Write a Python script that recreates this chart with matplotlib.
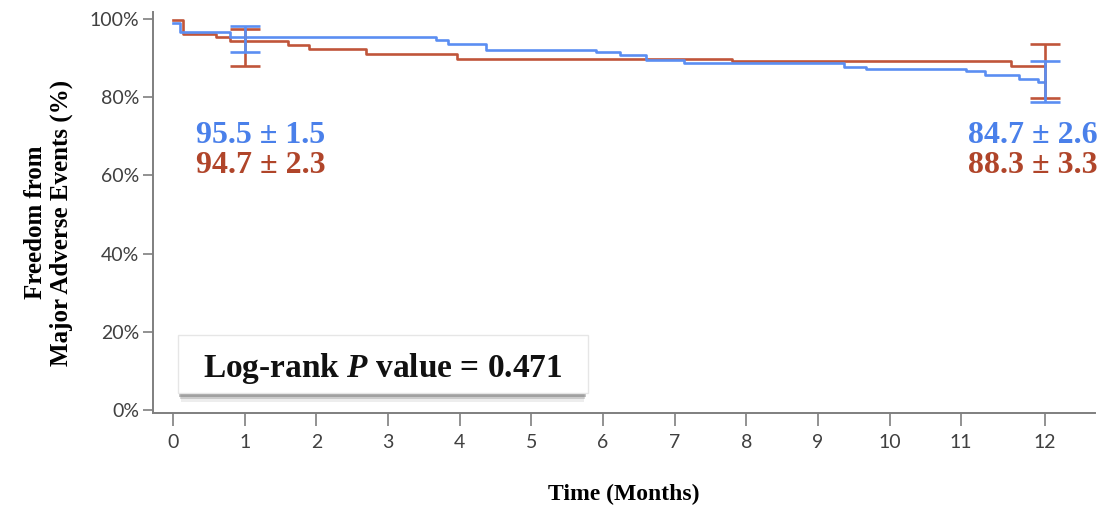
import matplotlib
matplotlib.use('Agg')
import matplotlib.pyplot as plt
from matplotlib.patches import Rectangle

# Kaplan-Meier steps (days, survival %)
blue_days = [0, 3, 24, 110, 115, 131, 177, 187, 198, 214, 281, 290, 332, 340, 354, 362, 365]
blue_surv = [99.0, 96.7, 95.4, 94.7, 93.7, 92.2, 91.6, 90.9, 89.4, 88.7, 87.7, 87.1, 86.6, 85.8, 84.7, 83.8, 83.8]
red_days = [0, 4, 18, 24, 48, 57, 81, 119, 234, 351, 365]
red_surv = [99.7, 96.3, 95.4, 94.4, 93.3, 92.3, 91.1, 89.8, 89.3, 87.9, 87.9]

# confidence bars at 1 and 12 months
err_days = [30, 365]
blue_lo = [91.6, 78.9]
blue_hi = [98.2, 89.2]
red_lo = [88.1, 79.8]
red_hi = [97.4, 93.5]

tick_days = [0, 30, 60, 90, 120, 150, 180, 210, 240, 270, 300, 330, 365]
tick_labels = ['0', '1', '2', '3', '4', '5', '6', '7', '8', '9', '10', '11', '12']
y_ticks = [0, 20, 40, 60, 80, 100]

blue_txt = ['95.5 \u00b1 1.5', '84.7 \u00b1 2.6']
red_txt = ['94.7 \u00b1 2.3', '88.3 \u00b1 3.3']

BLUE = '#5b8ef2'
RED = '#c0553a'
BLUE_T = '#4a80ea'
RED_T = '#b0452a'
GRAY = '#7f7f7f'

plt.rcParams['mathtext.fontset'] = 'custom'
plt.rcParams['mathtext.it'] = 'Liberation Serif:italic:bold'

fig = plt.figure(figsize=(11.02, 5.13), dpi=100)
ax = fig.add_axes([0.1388, 0.1949, 0.8548, 0.7817])

ax.step(red_days, red_surv, where='post', color=RED, lw=1.9)
ax.step(blue_days, blue_surv, where='post', color=BLUE, lw=1.9)

for lo, hi, c in [(red_lo, red_hi, RED), (blue_lo, blue_hi, BLUE)]:
    mid = [(a + b) / 2 for a, b in zip(lo, hi)]
    half = [(b - a) / 2 for a, b in zip(lo, hi)]
    ax.errorbar(err_days, mid, yerr=half, fmt='none', ecolor=c,
                elinewidth=1.9, capsize=11, capthick=1.9)

ax.set_xlim(-8.4, 386)
ax.set_ylim(-0.8, 101.8)
ax.set_xticks(tick_days)
ax.set_xticklabels(tick_labels)
ax.set_yticks(y_ticks)
ax.set_yticklabels([f'{v}%' for v in y_ticks])
for s in ['top', 'right']:
    ax.spines[s].set_visible(False)
for s in ['left', 'bottom']:
    ax.spines[s].set_color(GRAY)
    ax.spines[s].set_linewidth(1.4)
ax.tick_params(axis='y', length=7, width=1.2, color=GRAY, labelsize=14,
               labelcolor='#404040', pad=3)
ax.tick_params(axis='x', length=9, width=1.2, color=GRAY, labelsize=14,
               labelcolor='#404040', pad=6)
for lab in ax.get_xticklabels() + ax.get_yticklabels():
    lab.set_family('Lato')

# survival estimates
for txt, yy, c in [(blue_txt, 0.692, BLUE_T), (red_txt, 0.617, RED_T)]:
    ax.text(0.0456, yy, txt[0], transform=ax.transAxes, color=c,
            family='Liberation Serif', fontweight='bold', fontsize=23,
            va='center', ha='left')
    ax.text(1.003, yy, txt[1], transform=ax.transAxes, color=c,
            family='Liberation Serif', fontweight='bold', fontsize=23,
            va='center', ha='right')

# p value box with shadow
for k, a in enumerate([0.35, 0.22, 0.1]):
    ax.add_patch(Rectangle((0.028 + k * 0.001, 0.040 - k * 0.006), 0.432 - k * 0.002, 0.02,
                           transform=ax.transAxes, facecolor='#555555', alpha=a,
                           edgecolor='none', clip_on=False))
ax.add_patch(Rectangle((0.0265, 0.0499), 0.4353, 0.1446, transform=ax.transAxes,
                       facecolor='white', edgecolor='#e6e6e6', lw=1, clip_on=False))
ax.text(0.244, 0.11, r'Log-rank $P$ value = 0.471', transform=ax.transAxes,
        family='Liberation Serif', fontweight='bold', fontsize=24,
        ha='center', va='center', color='#111111')

ax.set_xlabel('Time (Months)', family='Liberation Serif', fontweight='bold',
              fontsize=17, labelpad=24)
fig.text(0.044, 0.566, 'Freedom from\nMajor Adverse Events (%)', rotation=90,
         family='Liberation Serif', fontweight='bold', fontsize=18,
         ha='center', va='center', linespacing=1.15)

fig.savefig('out.png', dpi=100)
